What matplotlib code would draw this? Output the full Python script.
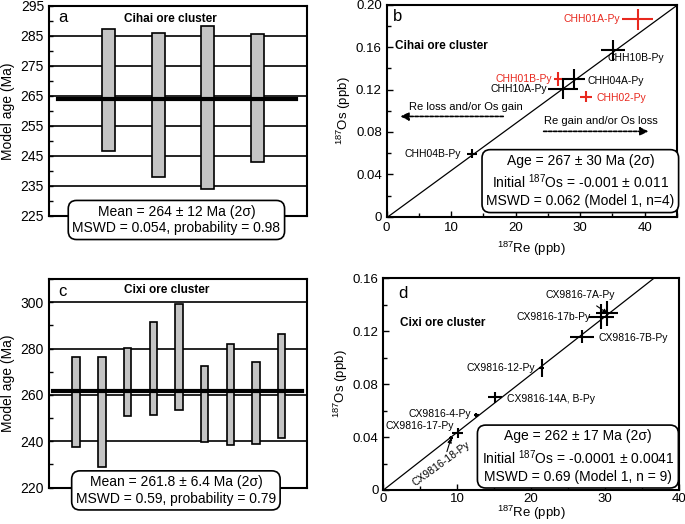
import numpy as np
import matplotlib
matplotlib.use("Agg")
import matplotlib.pyplot as plt
from matplotlib.ticker import MultipleLocator

plt.rcParams['font.family'] = ['Liberation Sans', 'DejaVu Sans']
plt.rcParams['mathtext.fontset'] = 'custom'
plt.rcParams['mathtext.rm'] = 'Liberation Sans'

# ---- data ----
# (a) Cihai model ages: upper / lower ends of 2-sigma bars (Ma)
cihai_top = [287.3, 286.1, 288.2, 285.7]
cihai_bot = [246.7, 237.9, 233.9, 243.1]
cihai_mean = 264.0
cihai_ticks = [225, 235, 245, 255, 265, 275, 285, 295]

# (c) Cixi model ages
cixi_top = [276.2, 276.2, 280.2, 291.5, 299.3, 272.3, 281.9, 274.2, 286.2]
cixi_bot = [237.6, 229.0, 251.0, 251.4, 253.7, 239.8, 238.2, 238.8, 241.4]
cixi_mean = 261.8
cixi_ticks = [220, 240, 260, 280, 300]

# (b) Cihai isochron
chh_names = ['CHH01A-Py', 'CHH10B-Py', 'CHH01B-Py', 'CHH04A-Py', 'CHH10A-Py', 'CHH02-Py', 'CHH04B-Py']
chh_re = [38.9, 35.1, 26.6, 29.0, 27.3, 30.9, 13.2]
chh_os = [0.1866, 0.157, 0.130, 0.1296, 0.1208, 0.1135, 0.0596]
chh_re_err = [2.4, 1.9, 0.7, 1.8, 2.3, 0.95, 0.8]
chh_os_err = [0.0099, 0.010, 0.007, 0.010, 0.0094, 0.0056, 0.004]
chh_outlier = [True, False, True, False, False, True, False]
chh_age, chh_init = 267.0, -0.001

# (d) Cixi isochron
cx_names = ['CX9816-7A-Py', 'CX9816-17b-Py', 'CX9816-7B-Py', 'CX9816-12-Py', 'CX9816-14A, B-Py',
            'CX9816-4-Py', 'CX9816-17-Py', 'CX9816-18-Py']
cx_re = [30.3, 29.5, 26.9, 21.4, 15.1, 12.6, 10.05, 9.15]
cx_os = [0.1336, 0.131, 0.116, 0.092, 0.070, 0.0567, 0.0428, 0.039]
cx_re_err = [1.5, 1.7, 1.6, 0.4, 0.9, 0.4, 0.7, 0.3]
cx_os_err = [0.0094, 0.0094, 0.005, 0.0069, 0.0044, 0.0015, 0.0038, 0.002]
cx_age, cx_init = 262.0, -0.0001

lam = 1.666e-11  # 187Re decay constant (1/yr)

red = '#e8281e'
gray = '#c4c4c4'

fig = plt.figure(figsize=(6.85, 5.24), dpi=100)
ax_a = fig.add_axes([0.0715, 0.5878, 0.3766, 0.4008])
ax_b = fig.add_axes([0.5645, 0.5865, 0.4238, 0.404])
ax_c = fig.add_axes([0.0715, 0.0693, 0.3766, 0.3983])
ax_d = fig.add_axes([0.5596, 0.0649, 0.4317, 0.404])

box = dict(boxstyle='round,pad=0.3,rounding_size=0.6', fc='white', ec='black', lw=1.2)


def age_panel(ax, tops, bots, xs, width, xlim, ylim, ticks, minor, grid):
    tops = np.array(tops)
    bots = np.array(bots)
    for g in grid:
        ax.axhline(g, color='black', lw=1.2, zorder=1)
    ax.bar(xs, tops - bots, bottom=bots, width=width, color=gray,
           edgecolor='black', lw=1.2, zorder=3)
    ax.set_xlim(*xlim)
    ax.set_ylim(*ylim)
    ax.set_xticks([])
    ax.set_yticks(ticks)
    ax.set_yticks(minor, minor=True)
    ax.tick_params(axis='y', which='both', direction='in', length=3, width=1, labelsize=10)
    ax.set_ylabel('Model age (Ma)', fontsize=10)
    for s in ax.spines.values():
        s.set_linewidth(1.5)


# ---- (a) ----
xa = np.arange(len(cihai_top)) + 1.2
age_panel(ax_a, cihai_top, cihai_bot, xa, 0.26, (0, 5.2), (225, 295), cihai_ticks,
          np.arange(230, 295, 10), cihai_ticks[1:-1])
ax_a.plot([0.18, 4.98], [cihai_mean, cihai_mean], color='black', lw=3, zorder=4)
ax_a.text(0.035, 0.945, 'a', transform=ax_a.transAxes, fontsize=12, va='center')
ax_a.text(0.47, 0.937, 'Cihai ore cluster', transform=ax_a.transAxes, fontsize=8.5,
          fontweight='bold', ha='center', va='center')
ax_a.text(0.494, -0.019, 'Mean = 264 \u00b1 12 Ma (2\u03c3)\nMSWD = 0.054, probability = 0.98',
          transform=ax_a.transAxes, ha='center', va='center', fontsize=10,
          linespacing=1.25, bbox=box, zorder=6)

# ---- (c) ----
xc = np.arange(len(cixi_top)) + 1
age_panel(ax_c, cixi_top, cixi_bot, xc, 0.29, (-0.06, 9.98), (220, 310), cixi_ticks,
          np.arange(230, 311, 20), cixi_ticks[1:])
ax_c.plot([0.1, 9.8], [cixi_mean, cixi_mean], color='black', lw=3, zorder=4)
ax_c.text(0.035, 0.94, 'c', transform=ax_c.transAxes, fontsize=12, va='center')
ax_c.text(0.455, 0.945, 'Cixi ore cluster', transform=ax_c.transAxes, fontsize=8.5,
          fontweight='bold', ha='center', va='center')
ax_c.text(0.492, -0.013, 'Mean = 261.8 \u00b1 6.4 Ma (2\u03c3)\nMSWD = 0.59, probability = 0.79',
          transform=ax_c.transAxes, ha='center', va='center', fontsize=10,
          linespacing=1.25, bbox=box, zorder=6)


def iso_axes(ax, xlim, ylim, yticks, ylabels, xpad, xlabelpad):
    ax.set_xlim(*xlim)
    ax.set_ylim(*ylim)
    ax.xaxis.set_major_locator(MultipleLocator(10))
    ax.xaxis.set_minor_locator(MultipleLocator(5))
    ax.set_yticks(yticks)
    ax.set_yticklabels(ylabels)
    ax.yaxis.set_minor_locator(MultipleLocator(0.02))
    ax.tick_params(which='both', direction='in', labelsize=9.5, width=1)
    ax.tick_params(which='major', length=4)
    ax.tick_params(which='minor', length=3)
    ax.tick_params(axis='x', pad=xpad)
    ax.set_xlabel('$^{187}$Re (ppb)', fontsize=9.5, labelpad=xlabelpad)
    ax.set_ylabel('$^{187}$Os (ppb)', fontsize=9.5, labelpad=2)
    for s in ax.spines.values():
        s.set_linewidth(1.5)


# ---- (b) ----
iso_axes(ax_b, (0, 45), (0, 0.2), [0, 0.04, 0.08, 0.12, 0.16, 0.20],
         ['0', '0.04', '0.08', '0.12', '0.16', '0.20'], 4, 4)
re_line = np.array([0, 45])
ax_b.plot(re_line, chh_init + (np.exp(lam * chh_age * 1e6) - 1) * re_line, color='black', lw=0.9)
for i in range(len(chh_names)):
    c = red if chh_outlier[i] else 'black'
    ax_b.errorbar(chh_re[i], chh_os[i], xerr=chh_re_err[i], yerr=chh_os_err[i],
                  fmt='none', ecolor=c, elinewidth=1.5, capsize=0, zorder=4)

chh_lab_pos = [(36.2, 0.1866, 'right'), (34.2, 0.150, 'left'), (25.6, 0.130, 'right'),
               (31.2, 0.1286, 'left'), (24.9, 0.1208, 'right'), (32.6, 0.1123, 'left'),
               (11.5, 0.0596, 'right')]
for i, (lx, ly, ha) in enumerate(chh_lab_pos):
    ax_b.text(lx, ly, chh_names[i], color=red if chh_outlier[i] else 'black',
              fontsize=7.5, ha=ha, va='center')

ax_b.text(0.02, 0.945, 'b', transform=ax_b.transAxes, fontsize=12, va='center')
ax_b.text(1.3, 0.1615, 'Cihai ore cluster', fontsize=8.5, fontweight='bold', va='center')
ax_b.text(3.4, 0.1032, 'Re loss and/or Os gain', fontsize=8, va='center')
ax_b.annotate('', xy=(1.7, 0.0947), xytext=(18.5, 0.0947),
              arrowprops=dict(arrowstyle='-|>', linestyle=(0, (2, 1)), color='black', lw=1.2,
                              mutation_scale=12))
ax_b.text(24.4, 0.090, 'Re gain and/or Os loss', fontsize=8, va='center')
ax_b.annotate('', xy=(41.0, 0.0806), xytext=(23.9, 0.0806),
              arrowprops=dict(arrowstyle='-|>', linestyle=(0, (2, 1)), color='black', lw=1.2,
                              mutation_scale=12))
ax_b.text(0.667, 0.168,
          'Age = 267 \u00b1 30 Ma (2\u03c3)\nInitial $^{187}$Os = -0.001 \u00b1 0.011\n'
          'MSWD = 0.062 (Model 1, n=4)',
          transform=ax_b.transAxes, ha='center', va='center', fontsize=10,
          linespacing=1.3, bbox=box, zorder=6)

# ---- (d) ----
iso_axes(ax_d, (0, 40), (0, 0.16), [0, 0.04, 0.08, 0.12, 0.16],
         ['0', '0.04', '0.08', '0.12', '0.16'], 2, -1)
re_line = np.array([0, 40])
ax_d.plot(re_line, cx_init + (np.exp(lam * cx_age * 1e6) - 1) * re_line, color='black', lw=0.9)
ax_d.errorbar(cx_re, cx_os, xerr=cx_re_err, yerr=cx_os_err, fmt='none', ecolor='black',
              elinewidth=1.5, capsize=0, zorder=4)

cx_lab_pos = [(28.0, 0.1305, 'right'), (29.1, 0.1151, 'left'), (20.5, 0.0925, 'right'),
              (16.7, 0.0686, 'left'), (11.9, 0.0574, 'right'), (9.5, 0.0486, 'right')]
for i, (lx, ly, ha) in enumerate(cx_lab_pos):
    ax_d.text(lx, ly, cx_names[i + 1], fontsize=7.5, ha=ha, va='center')
ax_d.annotate(cx_names[0], xy=(cx_re[0], cx_os[0]), xytext=(26.7, 0.1474),
              fontsize=7.5, ha='center', va='center',
              arrowprops=dict(arrowstyle='-|>', color='black', lw=0.8, mutation_scale=6,
                              shrinkA=4, shrinkB=0))
ax_d.annotate('', xy=(cx_re[7], cx_os[7]), xytext=(8.6, 0.029),
              arrowprops=dict(arrowstyle='-|>', color='black', lw=0.8, mutation_scale=6,
                              shrinkA=0, shrinkB=0))
ax_d.text(7.9, 0.0195, cx_names[7], fontsize=7.5, ha='center', va='center', rotation=36)

ax_d.text(0.05, 0.93, 'd', transform=ax_d.transAxes, fontsize=12, va='center')
ax_d.text(2.2, 0.126, 'Cixi ore cluster', fontsize=8.5, fontweight='bold', va='center')
ax_d.text(0.658, 0.158,
          'Age = 262 \u00b1 17 Ma (2\u03c3)\nInitial $^{187}$Os = -0.0001 \u00b1 0.0041\n'
          'MSWD = 0.69 (Model 1, n = 9)',
          transform=ax_d.transAxes, ha='center', va='center', fontsize=10,
          linespacing=1.3, bbox=box, zorder=6)

fig.savefig('out.png', dpi=100)
